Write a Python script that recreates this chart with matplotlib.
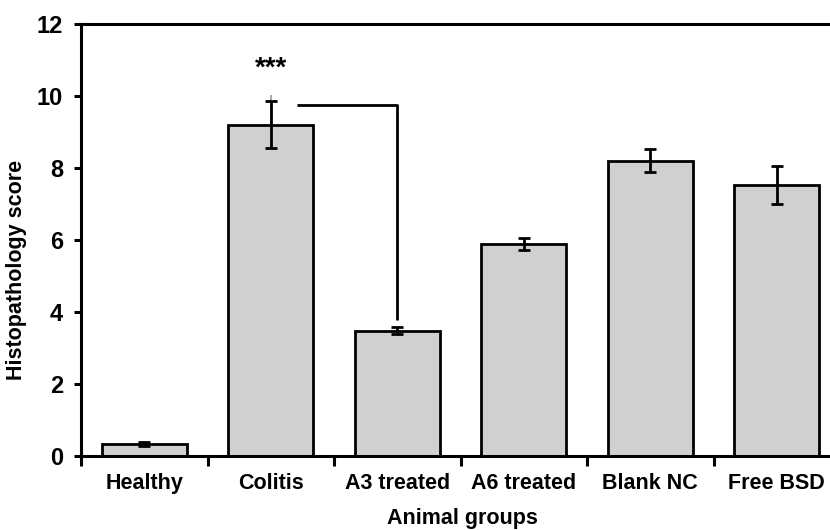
import matplotlib
matplotlib.use("Agg")
import matplotlib.pyplot as plt
import numpy as np

categories = ["Healthy", "Colitis", "A3 treated", "A6 treated", "Blank NC", "Free BSD"]
scores = [0.33, 9.2, 3.48, 5.89, 8.2, 7.52]
errors = [0.05, 0.65, 0.1, 0.17, 0.32, 0.53]
colitis_gray_upper = 0.82  # faint gray line above the Colitis error bar
bracket_top = 9.75
bracket_a3_end = 3.78
stars_y = 10.75
yticks = [0, 2, 4, 6, 8, 10, 12]

plt.rcParams['font.family'] = ['Liberation Sans', 'DejaVu Sans']
plt.rcParams['font.weight'] = 'bold'

fig = plt.figure(figsize=(8.3, 5.3), dpi=100)
ax = fig.add_axes([81/830, 74/530, 759/830, 432/530])

x = np.arange(len(categories))
ax.bar(x, scores, width=0.67, color="#d0d0d0", edgecolor="black", linewidth=2.0, zorder=2)
# faint gray line on Colitis
ax.errorbar([1], [scores[1]], yerr=[[0], [colitis_gray_upper]], fmt='none',
            ecolor="#9a9a9a", elinewidth=1.2, capsize=0, zorder=3)
ax.errorbar(x, scores, yerr=errors, fmt='none', ecolor="black", elinewidth=2.0,
            capsize=4, capthick=2.0, zorder=4)

# significance bracket between Colitis and A3 treated
ax.plot([1.21, 2, 2], [bracket_top, bracket_top, bracket_a3_end], color="black", lw=2.0,
        zorder=4, solid_capstyle='butt')
ax.text(1, stars_y, "***", ha="center", va="center", fontsize=20, fontweight="bold")

ax.set_xlim(-0.5, 5.5)
ax.set_ylim(0, 12)
ax.set_yticks(yticks)
ax.set_yticklabels([str(v) for v in yticks], fontsize=17, fontweight="bold")
ax.set_xticks(x)
ax.set_xticklabels(categories, fontsize=15.5, fontweight="bold")
ax.set_xticks(np.arange(-0.5, 5.5, 1.0), minor=True)
ax.tick_params(axis='x', which='major', length=0, pad=12)
ax.tick_params(axis='x', which='minor', length=7, width=2.2, direction='out')
ax.tick_params(axis='y', which='major', length=5, width=2.2, direction='out', pad=8)

for side in ['left', 'bottom', 'top']:
    ax.spines[side].set_linewidth(2.2)
ax.spines['right'].set_visible(False)

ax.set_ylabel("Histopathology score", fontsize=15.5, fontweight="bold")
ax.yaxis.set_label_coords(-0.071, 0.43)
ax.set_xlabel("Animal groups", fontsize=15.5, fontweight="bold")
ax.xaxis.set_label_coords(0.503, -0.12)

fig.savefig("out.png", dpi=100)
